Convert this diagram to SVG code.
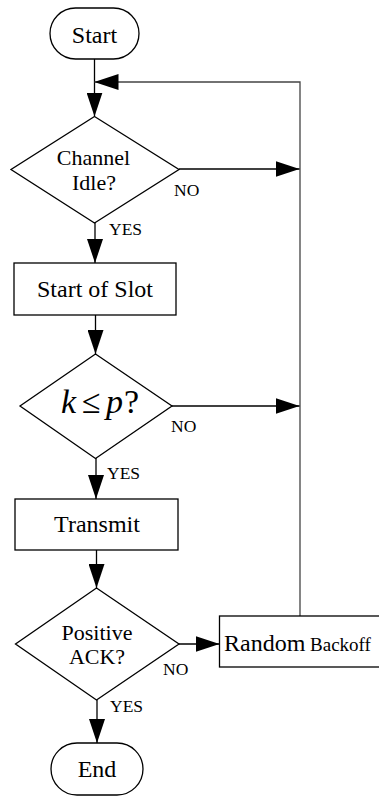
<svg xmlns="http://www.w3.org/2000/svg" width="379" height="796" viewBox="0 0 379 796" font-family="'Liberation Serif', 'Times New Roman', serif">
  <style>
    .shape { fill: #fff; stroke: #000; stroke-width: 1.3; }
    .lbl { fill: #000; text-anchor: middle; }
    .yn { fill: #000; font-size: 17.5px; }
    .wire { fill: none; stroke: #000; stroke-width: 1.3; }
    .loop { fill: none; stroke: #444; stroke-width: 1.3; }
    .it { font-style: italic; }
  </style>
  <defs>
    <marker id="arrow" markerUnits="userSpaceOnUse" markerWidth="24" markerHeight="16" refX="24" refY="8" orient="auto">
      <path d="M0,0 L24,8 L0,16 z" fill="#000"/>
    </marker>
  </defs>

  <rect width="379" height="796" fill="#fff"/>

  <!-- connectors -->
  <g id="connectors">
    <line class="wire" x1="94.5" y1="59" x2="94.5" y2="116.5" marker-end="url(#arrow)"/>
    <polyline class="loop" points="300,616 300,82 94.5,82" marker-end="url(#arrow)"/>
    <line class="wire" x1="179" y1="169" x2="299.5" y2="169" marker-end="url(#arrow)"/>
    <line class="wire" x1="95" y1="223" x2="95" y2="263" marker-end="url(#arrow)"/>
    <line class="wire" x1="95.5" y1="315" x2="95.5" y2="354" marker-end="url(#arrow)"/>
    <line class="wire" x1="172" y1="406" x2="299.5" y2="406" marker-end="url(#arrow)"/>
    <line class="wire" x1="96" y1="458" x2="96" y2="499" marker-end="url(#arrow)"/>
    <line class="wire" x1="96.5" y1="550" x2="96.5" y2="588" marker-end="url(#arrow)"/>
    <line class="wire" x1="178" y1="644" x2="219.5" y2="644" marker-end="url(#arrow)"/>
    <line class="wire" x1="97" y1="700" x2="97" y2="743" marker-end="url(#arrow)"/>
    <text class="yn" x="174" y="196">NO</text>
    <text class="yn" x="109" y="235">YES</text>
    <text class="yn" x="171" y="432">NO</text>
    <text class="yn" x="107" y="479">YES</text>
    <text class="yn" x="163" y="675">NO</text>
    <text class="yn" x="110" y="712">YES</text>
  </g>

  <!-- start terminator -->
  <g id="start">
    <rect class="shape" x="50" y="8" width="89" height="51" rx="25.5"/>
    <text class="lbl" x="94.5" y="43" font-size="24">Start</text>
  </g>

  <!-- channel idle check -->
  <g id="channel-idle">
    <polygon class="shape" points="94.5,116.5 179,169.5 94.5,223 11,169.5"/>
    <text class="lbl" x="93.5" y="165" font-size="22">Channel</text>
    <text class="lbl" x="94" y="189.5" font-size="22">Idle?</text>
  </g>

  <!-- slot boundary -->
  <g id="start-of-slot">
    <rect class="shape" x="14" y="263" width="162" height="52"/>
    <text class="lbl" x="95" y="297" font-size="24">Start of Slot</text>
  </g>

  <!-- persistence test -->
  <g id="k-le-p">
    <polygon class="shape" points="95.5,354 172,406 95.5,458.5 20,406"/>
    <text font-size="34" fill="#000" y="413"><tspan class="it" x="61">k</tspan><tspan x="82">≤</tspan><tspan class="it" x="106">p</tspan><tspan x="124">?</tspan></text>
  </g>

  <!-- transmit -->
  <g id="transmit">
    <rect class="shape" x="15" y="499" width="163" height="51"/>
    <text class="lbl" x="97" y="532" font-size="24">Transmit</text>
  </g>

  <!-- acknowledgement check -->
  <g id="positive-ack">
    <polygon class="shape" points="96.5,588 179,644 96.5,700 15.5,644"/>
    <text class="lbl" x="97" y="639.5" font-size="22">Positive</text>
    <text class="lbl" x="97" y="664" font-size="22">ACK?</text>
  </g>

  <!-- backoff -->
  <g id="random-backoff">
    <rect class="shape" x="219.5" y="616" width="170" height="51"/>
    <text fill="#000" x="224" y="651"><tspan font-size="24">Random</tspan><tspan font-size="19"> Backoff</tspan></text>
  </g>

  <!-- end terminator -->
  <g id="end">
    <rect class="shape" x="51" y="743" width="92" height="52" rx="26"/>
    <text class="lbl" x="97" y="777" font-size="24">End</text>
  </g>
</svg>
